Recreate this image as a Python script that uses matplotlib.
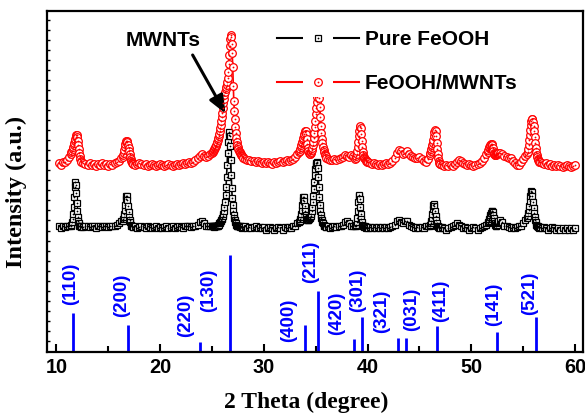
import matplotlib
matplotlib.use("Agg")
import matplotlib.pyplot as plt
from matplotlib.lines import Line2D
from matplotlib.legend_handler import HandlerTuple
import numpy as np

# ---------------- data ----------------
two_theta = [
    10.2, 10.4, 10.6, 10.8, 11.0, 11.2,
    11.40, 11.45, 11.50, 11.55, 11.60, 11.65, 11.70, 11.75, 11.80, 11.85,
    11.90, 11.95, 12.00, 12.05, 12.10, 12.15, 12.20, 12.25, 12.30, 12.35,
    12.4, 12.6, 12.8, 13.0, 13.2, 13.4, 13.6, 13.8, 14.0, 14.2,
    14.4, 14.6, 14.8, 15.0, 15.2, 15.4, 15.6, 15.8, 16.0, 16.2,
    16.40, 16.45, 16.50, 16.55, 16.60, 16.65, 16.70, 16.75, 16.80, 16.85,
    16.90, 16.95, 17.00, 17.05, 17.10, 17.15, 17.20, 17.25, 17.30, 17.35,
    17.4, 17.6, 17.8, 18.0, 18.2, 18.4, 18.6, 18.8, 19.0, 19.2,
    19.4, 19.6, 19.8, 20.0, 20.2, 20.4, 20.6, 20.8, 21.0, 21.2,
    21.4, 21.6, 21.8, 22.0, 22.2, 22.4, 22.6, 22.8, 23.0, 23.2,
    23.4, 23.6, 23.8, 24.0, 24.2, 24.4, 24.6, 24.8,
    25.00, 25.05, 25.10, 25.15, 25.20, 25.25, 25.30, 25.35, 25.40, 25.45,
    25.50, 25.55, 25.60, 25.65, 25.70, 25.75, 25.80, 25.85, 25.90, 25.95,
    26.00, 26.05, 26.10, 26.15, 26.20, 26.25, 26.30, 26.35, 26.40, 26.45,
    26.50, 26.55, 26.60, 26.65, 26.70, 26.75, 26.80, 26.85, 26.90, 26.95,
    27.00, 27.05, 27.10, 27.15, 27.20, 27.25, 27.30, 27.35, 27.40, 27.45,
    27.50, 27.55, 27.60, 27.65, 27.70, 27.75, 27.80, 27.85, 27.90, 27.95,
    28.0, 28.2, 28.4, 28.6, 28.8, 29.0, 29.2, 29.4, 29.6, 29.8,
    30.0, 30.2, 30.4, 30.6, 30.8, 31.0, 31.2, 31.4, 31.6, 31.8,
    32.0, 32.2, 32.4, 32.6, 32.8, 33.0, 33.2,
    33.40, 33.45, 33.50, 33.55, 33.60, 33.65, 33.70, 33.75, 33.80, 33.85,
    33.90, 33.95, 34.00, 34.05, 34.10, 34.15, 34.20, 34.25, 34.30, 34.35,
    34.40, 34.45, 34.50, 34.55, 34.60, 34.65, 34.70, 34.75, 34.80, 34.85,
    34.90, 34.95, 35.00, 35.05, 35.10, 35.15, 35.20, 35.25, 35.30, 35.35,
    35.40, 35.45, 35.50, 35.55, 35.60, 35.65, 35.70, 35.75, 35.80, 35.85,
    35.90, 35.95,
    36.0, 36.2, 36.4, 36.6, 36.8, 37.0, 37.2, 37.4, 37.6, 37.8, 38.0, 38.2, 38.4, 38.6,
    38.80, 38.85, 38.90, 38.95, 39.00, 39.05, 39.10, 39.15, 39.20, 39.25,
    39.30, 39.35, 39.40, 39.45, 39.50, 39.55, 39.60, 39.65, 39.70, 39.75,
    39.80, 39.85, 39.90, 39.95,
    40.0, 40.2, 40.4, 40.6, 40.8, 41.0, 41.2, 41.4, 41.6, 41.8,
    42.0, 42.2, 42.4, 42.6, 42.8, 43.0, 43.2, 43.4, 43.6, 43.8,
    44.0, 44.2, 44.4, 44.6, 44.8, 45.0, 45.2, 45.4, 45.6, 45.8,
    46.00, 46.05, 46.10, 46.15, 46.20, 46.25, 46.30, 46.35, 46.40, 46.45,
    46.50, 46.55, 46.60, 46.65, 46.70, 46.75, 46.80, 46.85, 46.90, 46.95,
    47.0, 47.2, 47.4, 47.6, 47.8, 48.0, 48.2, 48.4, 48.6, 48.8,
    49.0, 49.2, 49.4, 49.6, 49.8, 50.0, 50.2, 50.4, 50.6, 50.8,
    51.0, 51.2, 51.4,
    51.60, 51.65, 51.70, 51.75, 51.80, 51.85, 51.90, 51.95, 52.00, 52.05,
    52.10, 52.15, 52.20, 52.25, 52.30, 52.35, 52.40, 52.45, 52.50, 52.55,
    52.6, 52.8, 53.0, 53.2, 53.4, 53.6, 53.8, 54.0, 54.2, 54.4, 54.6, 54.8, 55.0, 55.2,
    55.40, 55.45, 55.50, 55.55, 55.60, 55.65, 55.70, 55.75, 55.80, 55.85,
    55.90, 55.95, 56.00, 56.05, 56.10, 56.15, 56.20, 56.25, 56.30, 56.35,
    56.40, 56.45, 56.50, 56.55,
    56.6, 56.8, 57.0, 57.2, 57.4, 57.6, 57.8, 58.0, 58.2, 58.4,
    58.6, 58.8, 59.0, 59.2, 59.4, 59.6, 59.8, 60.0,
]

pure_feooh = [
    12.5, 12.3, 12.6, 12.4, 12.5, 12.6,
    12.6, 12.7, 12.9, 13.2, 13.7, 14.4, 15.4, 16.4, 16.95, 16.6,
    15.8, 14.8, 14.0, 13.4, 13.0, 12.8, 12.6, 12.5, 12.6, 12.4,
    12.5, 12.4, 12.6, 12.5, 12.4, 12.6, 12.5, 12.3, 12.5, 12.6,
    12.4, 12.5, 12.6, 12.4, 12.5, 12.6, 12.5, 12.7, 12.8, 13.0,
    13.0, 13.2, 13.4, 13.7, 14.1, 14.6, 15.2, 15.5, 15.5, 15.1,
    14.5, 13.9, 13.4, 13.1, 12.9, 12.7, 12.6, 12.5, 12.5, 12.4,
    12.4, 12.5, 12.3, 12.4, 12.5, 12.4, 12.3, 12.5, 12.4, 12.3,
    12.4, 12.5, 12.3, 12.4, 12.3, 12.4, 12.5, 12.3, 12.4, 12.5,
    12.3, 12.4, 12.5, 12.4, 12.3, 12.5, 12.6, 12.5, 12.4, 12.5,
    12.6, 12.7, 12.9, 13.0, 12.8, 12.6, 12.5, 12.5,
    12.5, 12.6, 12.5, 12.4, 12.5, 12.6, 12.5, 12.6, 12.5, 12.6,
    12.6, 12.7, 12.6, 12.7, 12.8, 12.8, 12.9, 13.0, 13.1, 13.2,
    13.3, 13.5, 13.7, 14.0, 14.4, 14.9, 15.6, 16.4, 17.4, 18.6,
    19.8, 20.9, 21.6, 21.9, 21.5, 20.5, 19.1, 17.6, 16.3, 15.3,
    14.6, 14.0, 13.6, 13.3, 13.1, 12.9, 12.8, 12.7, 12.6, 12.6,
    12.5, 12.6, 12.5, 12.4, 12.5, 12.4, 12.5, 12.4, 12.3, 12.4,
    12.4, 12.5, 12.3, 12.4, 12.3, 12.4, 12.5, 12.3, 12.4, 12.3,
    12.4, 12.2, 12.3, 12.4, 12.3, 12.2, 12.3, 12.4, 12.3, 12.2,
    12.4, 12.3, 12.4, 12.3, 12.5, 12.6, 12.8,
    12.9, 13.0, 13.2, 13.4, 13.7, 14.1, 14.6, 15.1, 15.4, 15.4,
    15.0, 14.5, 14.0, 13.6, 13.4, 13.2, 13.1, 13.1, 13.1, 13.2,
    13.3, 13.4, 13.5, 13.7, 14.0, 14.4, 14.9, 15.5, 16.2, 16.9,
    17.6, 18.2, 18.6, 18.8, 18.9, 18.8, 18.3, 17.4, 16.4, 15.4,
    14.6, 14.0, 13.6, 13.3, 13.1, 12.9, 12.8, 12.7, 12.6, 12.5,
    12.5, 12.4,
    12.4, 12.5, 12.3, 12.4, 12.5, 12.4, 12.5, 12.6, 12.7, 12.9, 13.0, 12.8, 12.6, 12.6,
    12.5, 12.6, 12.7, 12.9, 13.3, 14.0, 14.9, 15.5, 15.6, 15.2,
    14.4, 13.7, 13.2, 12.9, 12.7, 12.6, 12.5, 12.5, 12.4, 12.5,
    12.4, 12.3, 12.4, 12.4,
    12.3, 12.4, 12.3, 12.4, 12.3, 12.4, 12.3, 12.4, 12.3, 12.4,
    12.3, 12.4, 12.5, 12.7, 13.0, 13.1, 12.9, 12.8, 13.0, 13.0,
    12.7, 12.5, 12.4, 12.3, 12.4, 12.3, 12.4, 12.3, 12.5, 12.6,
    12.6, 12.7, 12.8, 13.0, 13.3, 13.7, 14.2, 14.6, 14.7, 14.5,
    14.0, 13.5, 13.1, 12.8, 12.6, 12.5, 12.4, 12.4, 12.3, 12.4,
    12.3, 12.4, 12.3, 12.2, 12.3, 12.4, 12.5, 12.7, 12.8, 12.7,
    12.5, 12.3, 12.4, 12.3, 12.2, 12.3, 12.4, 12.3, 12.2, 12.3,
    12.4, 12.5, 12.7,
    12.8, 12.9, 13.0, 13.2, 13.4, 13.6, 13.8, 14.0, 14.0, 13.9,
    13.6, 13.3, 13.0, 12.8, 12.7, 12.6, 12.6, 12.7, 12.8, 12.9,
    13.0, 13.1, 12.9, 12.6, 12.5, 12.4, 12.3, 12.4, 12.3, 12.4, 12.5, 12.6, 12.8, 13.1,
    13.3, 13.5, 13.8, 14.1, 14.5, 15.0, 15.5, 15.9, 16.0, 15.9,
    15.5, 14.9, 14.3, 13.8, 13.4, 13.1, 12.9, 12.7, 12.6, 12.5,
    12.5, 12.4, 12.4, 12.3,
    12.4, 12.3, 12.4, 12.3, 12.2, 12.3, 12.4, 12.3, 12.2, 12.3,
    12.2, 12.3, 12.2, 12.3, 12.2, 12.3, 12.2, 12.3,
]

feooh_mwnts = [
    18.8, 18.6, 18.9, 18.9, 19.1, 19.4,
    19.7, 19.9, 20.0, 20.2, 20.4, 20.6, 20.8, 21.0, 21.2, 21.4,
    21.6, 21.65, 21.4, 21.0, 20.6, 20.2, 19.8, 19.5, 19.2, 19.0,
    18.9, 18.8, 18.7, 18.6, 18.8, 18.6, 18.7, 18.5, 18.7, 18.6,
    18.8, 18.6, 18.7, 18.5, 18.7, 18.6, 18.8, 18.9, 19.0, 19.3,
    19.4, 19.6, 19.8, 20.1, 20.4, 20.7, 20.9, 21.0, 21.05, 20.9,
    20.6, 20.3, 20.0, 19.7, 19.4, 19.2, 19.0, 18.9, 18.8, 18.7,
    18.7, 18.6, 18.7, 18.8, 18.7, 18.6, 18.7, 18.5, 18.6, 18.7,
    18.6, 18.5, 18.6, 18.7, 18.6, 18.5, 18.6, 18.7, 18.6, 18.5,
    18.6, 18.7, 18.6, 18.7, 18.8, 18.7, 18.8, 18.9, 18.8, 18.9,
    19.1, 19.3, 19.5, 19.7, 19.5, 19.4, 19.5, 19.7,
    19.8, 19.9, 20.0, 20.1, 20.2, 20.3, 20.4, 20.5, 20.6, 20.8,
    20.9, 21.1, 21.3, 21.5, 21.7, 22.0, 22.3, 22.6, 23.0, 23.4,
    23.8, 24.3, 24.8, 25.2, 25.6, 25.9, 26.2, 26.4, 26.6, 26.9,
    27.3, 27.9, 28.7, 29.6, 30.5, 31.2, 31.6, 31.4, 30.7, 29.8,
    28.4, 26.5, 25.0, 24.0, 23.2, 22.4, 21.8, 21.3, 20.9, 20.6,
    20.4, 20.2, 20.0, 19.9, 19.8, 19.7, 19.6, 19.5, 19.5, 19.4,
    19.3, 19.2, 19.1, 19.1, 19.0, 19.0, 18.9, 19.0, 18.9, 18.8,
    18.9, 18.8, 18.9, 18.8, 18.7, 18.9, 18.8, 18.9, 19.0, 18.9,
    19.0, 19.1, 19.0, 19.1, 19.2, 19.4, 19.7,
    19.9, 20.0, 20.2, 20.4, 20.6, 20.8, 20.9, 21.1, 21.3, 21.5,
    21.7, 21.9, 22.0, 22.0, 21.7, 21.2, 20.7, 20.3, 20.0, 19.8,
    19.7, 19.7, 19.8, 19.9, 20.1, 20.3, 20.6, 20.9, 21.3, 21.8,
    22.4, 23.0, 23.7, 24.3, 24.9, 25.4, 25.7, 25.85, 25.8, 25.3,
    24.4, 23.4, 22.5, 21.8, 21.2, 20.8, 20.4, 20.1, 19.9, 19.7,
    19.6, 19.5,
    19.3, 19.2, 19.1, 19.1, 19.2, 19.1, 19.2, 19.3, 19.4, 19.6, 19.5, 19.4, 19.6, 19.5,
    19.2, 19.3, 19.5, 19.7, 20.0, 20.4, 20.9, 21.5, 22.0, 22.4,
    22.5, 22.3, 21.7, 21.0, 20.4, 19.9, 19.6, 19.4, 19.3, 19.2,
    19.1, 19.0, 19.0, 18.9,
    18.9, 18.8, 18.7, 18.8, 18.7, 18.6, 18.7, 18.6, 18.7, 18.8,
    18.7, 18.8, 19.0, 19.3, 19.8, 20.1, 20.0, 19.7, 19.8, 20.0,
    19.7, 19.5, 19.4, 19.3, 19.3, 19.4, 19.2, 19.0, 18.9, 19.2,
    19.6, 19.8, 20.0, 20.2, 20.4, 20.6, 20.8, 21.1, 21.5, 21.9,
    22.1, 22.0, 21.5, 20.8, 20.2, 19.7, 19.3, 19.0, 18.8, 18.7,
    18.7, 18.6, 18.5, 18.6, 18.5, 18.6, 18.5, 18.7, 18.9, 19.1,
    19.0, 18.8, 18.7, 18.6, 18.7, 18.6, 18.5, 18.6, 18.7, 18.8,
    19.0, 19.3, 19.7,
    19.9, 20.1, 20.3, 20.4, 20.5, 20.6, 20.7, 20.75, 20.6, 20.3,
    20.0, 19.8, 19.7, 19.6, 19.6, 19.6, 19.7, 19.7, 19.8, 19.8,
    19.8, 19.8, 19.7, 19.5, 19.4, 19.3, 19.3, 19.0, 18.8, 18.6, 18.6, 18.9, 19.2, 19.5,
    19.7, 19.9, 20.2, 20.6, 21.1, 21.6, 22.1, 22.6, 23.0, 23.2,
    23.2, 22.9, 22.5, 22.0, 21.4, 20.8, 20.3, 19.9, 19.6, 19.4,
    19.2, 19.1, 19.0, 18.9,
    18.9, 18.8, 18.7, 18.8, 18.6, 18.7, 18.5, 18.6, 18.5, 18.6,
    18.5, 18.4, 18.5, 18.6, 18.5, 18.4, 18.5, 18.6,
]

# standard reflections (JCPDS): position, relative height, (hkl)
ref_positions = [11.6, 16.9, 23.85, 26.75, 33.95, 35.25, 38.65, 39.45,
                 42.95, 43.7, 46.65, 52.5, 56.2]
ref_heights = [3.9, 2.65, 1.0, 9.65, 2.65, 6.1, 1.25, 3.5,
               1.35, 1.35, 2.55, 2.0, 3.5]
ref_hkl = ["(110)", "(200)", "(220)", "(130)", "(400)", "(211)", "(420)",
           "(301)", "(321)", "(031)", "(411)", "(141)", "(521)"]
# label anchor (centre x, bottom y) for each (hkl) text
label_x = [11.35, 16.33, 22.5, 24.64, 32.35, 34.47, 37.04, 39.0,
           41.38, 44.27, 47.06, 52.13, 55.66]
label_y = [4.65, 3.45, 1.45, 3.95, 0.95, 6.85, 1.65, 3.95,
           1.85, 2.05, 2.95, 2.55, 3.65]

x_ticks = [10, 20, 30, 40, 50, 60]
series_names = ["Pure FeOOH", "FeOOH/MWNTs"]

assert len(two_theta) == len(pure_feooh) == len(feooh_mwnts)

# ---------------- figure ----------------
SANS = "Liberation Sans"
SERIF = "Liberation Serif"

fig = plt.figure(figsize=(5.85, 4.13), dpi=100)
ax = fig.add_axes([46.5 / 585, 61.5 / 413, 536.5 / 585, 340.5 / 413])

# curves
ax.plot(two_theta, pure_feooh, color="black", lw=1.2, marker="s", ms=5,
        mfc="white", mec="black", mew=0.9, zorder=3)
ax.plot(two_theta, pure_feooh, ls="none", marker="o", ms=1.3, mfc="black",
        mec="black", mew=0, zorder=3.1)
ax.plot(two_theta, feooh_mwnts, color="red", lw=1.2, marker="o", ms=5.5,
        mfc="white", mec="red", mew=0.9, zorder=3)
ax.plot(two_theta, feooh_mwnts, ls="none", marker="o", ms=1.3, mfc="red",
        mec="red", mew=0, zorder=3.1)

# reference sticks
ax.vlines(ref_positions, 0, ref_heights, colors="#0000ff", lw=2.0, zorder=2)
for lx, ly, t in zip(label_x, label_y, ref_hkl):
    ax.text(lx, ly, t, rotation=90, ha="center", va="bottom", color="#0000ff",
            fontsize=13.5, fontweight="bold", family=SANS)

# MWNTs annotation
ax.text(20.27, 31.05, "MWNTs", ha="center", va="center", fontsize=15,
        fontweight="bold", family=SANS)
ax.annotate("", xy=(26.3, 23.8), xytext=(23.13, 29.65),
            arrowprops=dict(arrowstyle="-|>,head_length=0.6,head_width=0.25",
                            lw=2.2, color="black", mutation_scale=18,
                            shrinkA=0, shrinkB=0))

# axes styling
ax.set_xlim(9.04, 60.77)
ax.set_ylim(0, 34.05)
ax.set_xticks(x_ticks)
ax.set_xticks([15, 25, 35, 45, 55], minor=True)
ax.set_yticks(np.arange(1.1, 34, 1.0))
ax.set_yticklabels([])
ax.tick_params(axis="x", which="major", direction="in", length=6, width=1.5,
               pad=5, top=False)
ax.tick_params(axis="x", which="minor", direction="in", length=4, width=1.5,
               top=False)
ax.tick_params(axis="y", which="major", direction="in", length=2.2, width=1.0,
               right=False)
for lab in ax.get_xticklabels():
    lab.set_fontfamily(SANS)
    lab.set_fontweight("bold")
    lab.set_fontsize(14.3)
for sp in ax.spines.values():
    sp.set_linewidth(1.6)

ax.set_xlabel("2 Theta (degree)", family=SERIF, fontweight="bold",
              fontsize=17)
ax.xaxis.set_label_coords(0.484, -0.117)
ax.xaxis.label.set_va("top")
ax.set_ylabel("Intensity (a.u.)", family=SERIF, fontweight="bold",
              fontsize=17.5)
ax.yaxis.set_label_coords(-0.036, 0.468)

# legend (line - gap - marker - gap - line)
def legend_handle(color, marker, ms):
    line = Line2D([], [], color=color, lw=1.5)
    blank = Line2D([], [], ls="none", marker="s", ms=21, mfc="white",
                   mec="white", mew=0)
    mk = Line2D([], [], ls="none", marker=marker, ms=ms, mfc="white",
                mec=color, mew=0.9)
    dot = Line2D([], [], ls="none", marker="o", ms=1.3, mfc=color, mec=color,
                 mew=0)
    return (line, blank, mk, dot)

handles = [legend_handle("black", "s", 5), legend_handle("red", "o", 5.5)]
leg = ax.legend(handles, series_names,
                handler_map={tuple: HandlerTuple(ndivide=1, pad=0)},
                loc="upper left", bbox_to_anchor=(0.4296, 0.943), frameon=False,
                borderpad=0, borderaxespad=0, handlelength=3.94,
                handletextpad=0.29, labelspacing=1.19,
                prop={"family": SANS, "weight": "bold", "size": 15})

fig.savefig("out.png", dpi=100)
